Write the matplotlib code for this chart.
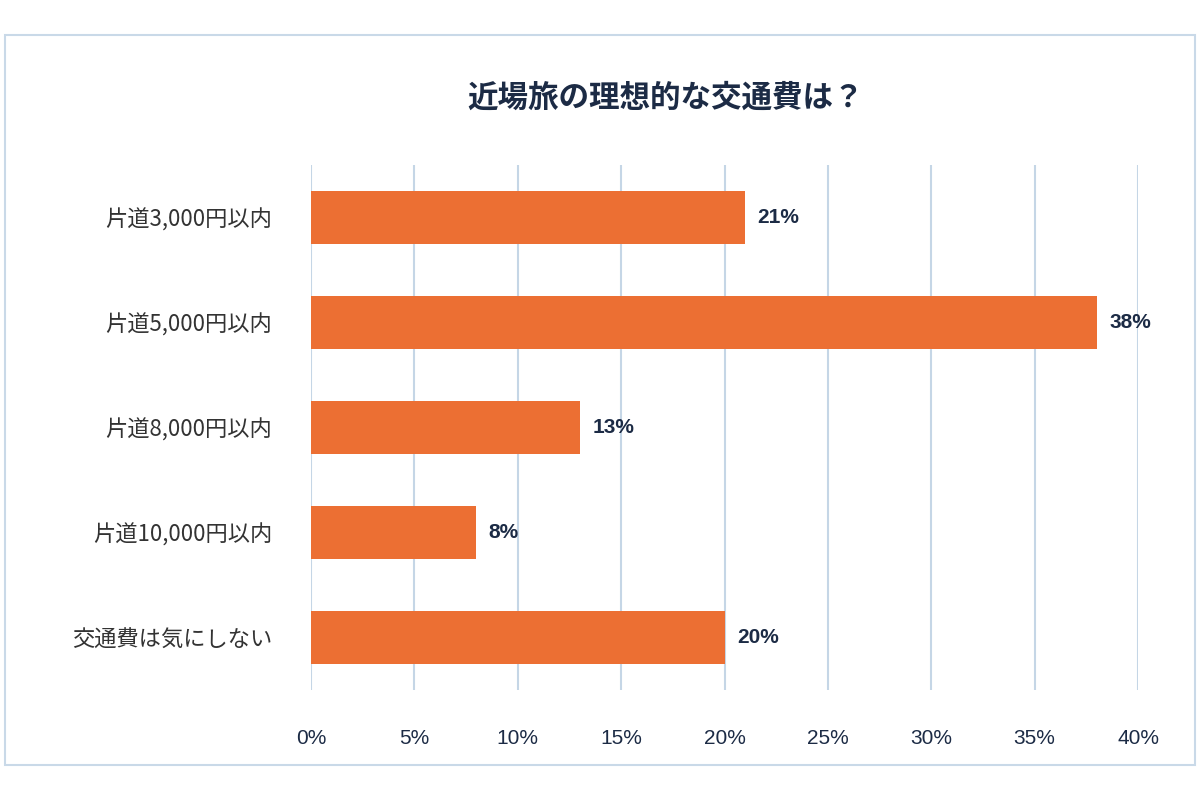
import matplotlib
matplotlib.use("Agg")
import matplotlib.pyplot as plt
from matplotlib.patches import Rectangle

plt.rcParams['font.family'] = ['Noto Sans CJK JP', 'DejaVu Sans']

categories = ["片道3,000円以内", "片道5,000円以内", "片道8,000円以内", "片道10,000円以内", "交通費は気にしない"]
values = [21, 38, 13, 8, 20]
xticks = [0, 5, 10, 15, 20, 25, 30, 35, 40]

fig = plt.figure(figsize=(12, 8), dpi=100)
# light blue frame around the chart
fig.patches.append(Rectangle((5 / 1200, 35 / 800), 1190 / 1200, 730 / 800, transform=fig.transFigure,
                             fill=False, edgecolor='#C9D9E8', linewidth=1.5))

ax = fig.add_axes([311 / 1200, 110 / 800, 827 / 1200, 525 / 800])
ypos = list(range(len(categories)))
ax.barh(ypos, values, height=0.5, color='#EC6F33', zorder=3)
for y, v in zip(ypos, values):
    ax.text(v + 0.6, y, f"{v}%", va='center', ha='left', fontsize=15, fontweight='bold',
            color='#1C2B45', family=['Liberation Sans', 'DejaVu Sans'])

ax.set_xlim(0, 40)
ax.set_ylim(4.5, -0.5)
ax.set_xticks(xticks)
ax.set_xticklabels([f"{t}%" for t in xticks], fontsize=15, color='#1C2B45',
                   family=['Liberation Sans', 'DejaVu Sans'])
ax.set_yticks(ypos)
ax.set_yticklabels(categories, fontsize=16, color='#333333')
ax.tick_params(length=0)
ax.tick_params(axis='x', pad=28)
ax.tick_params(axis='y', pad=28)
ax.grid(axis='x', color='#C5D6E6', linewidth=1.5, zorder=0)
for s in ax.spines.values():
    s.set_visible(False)

fig.text(0.555, 0.878, "近場旅の理想的な交通費は？", ha='center', va='center', fontsize=22,
         fontweight='bold', color='#1C2B45')

fig.savefig("out.png", dpi=100)
